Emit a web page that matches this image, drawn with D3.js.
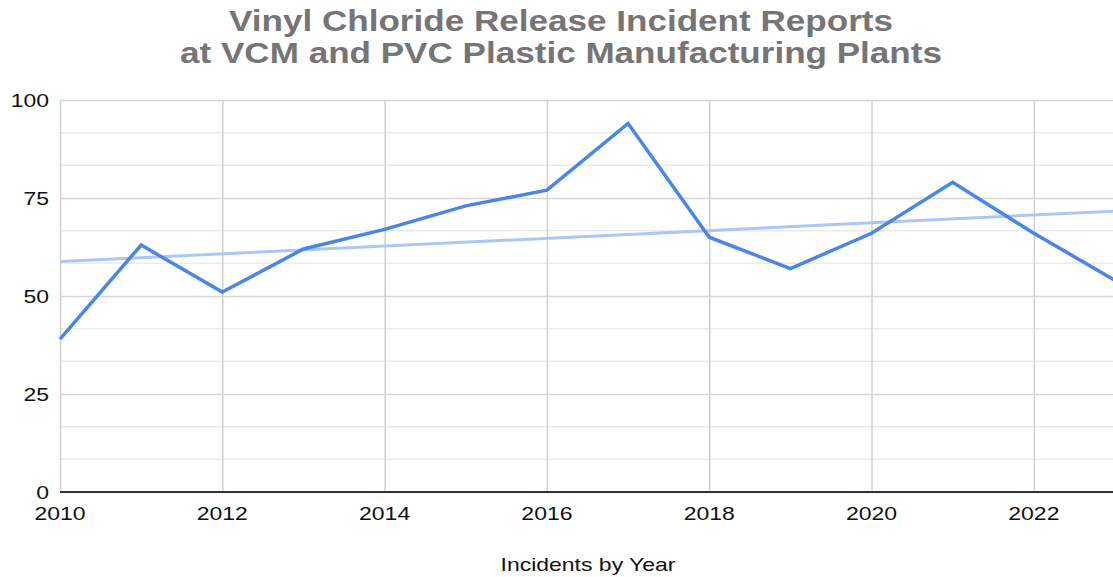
<!DOCTYPE html>
<html>
<head>
<meta charset="utf-8">
<script src="https://cdn.jsdelivr.net/npm/d3@7"></script>
<style>
  body { margin: 0; background: #fff; }
  svg { display: block; font-family: Arial, "Liberation Sans", sans-serif; }
</style>
</head>
<body>
<div class="container"></div>
<script>
// vinyl chloride incidents line chart + trendline

var years = [2010, 2011, 2012, 2013, 2014, 2015, 2016, 2017, 2018, 2019, 2020, 2021, 2022, 2023];
var incidents = [39, 63, 51, 62, 67, 73, 77, 94, 65, 57, 66, 79, 66, 54];
var yTicks = [0, 25, 50, 75, 100];
var xTicks = [2010, 2012, 2014, 2016, 2018, 2020, 2022];
var titleLines = ["Vinyl Chloride Release Incident Reports", "at VCM and PVC Plastic Manufacturing Plants"];
var xTitle = "Incidents by Year";

var width = 1113;
var height = 577;
var margin = {top: 100, right: -2, bottom: 85, left: 60};
var stretch = 1.21; // the text in the original is a bit wide

const svg = d3.select(".container")
    .append("svg")
    .attr("width", width)
    .attr("height", height);

var x = d3.scaleLinear()
    .domain([2010, 2023])
    .range([margin.left, width - margin.right]);

var y = d3.scaleLinear()
    .domain([0, 100])
    .range([height - margin.bottom, margin.top]);

function place(px, py)
{
    return "translate(" + px + "," + py + ") scale(" + stretch + ",1)";
}

// minor gridlines (thirds between major ticks)
var minor = d3.range(0, 100.01, 25 / 3).filter(function(v)
{
    return Math.abs(v % 25) > 0.1 && Math.abs(v % 25 - 25) > 0.1;
});

svg.append("g")
    .selectAll("line")
    .data(minor)
    .join("line")
    .attr("x1", x(2010)).attr("x2", width)
    .attr("y1", function(d) { return y(d); })
    .attr("y2", function(d) { return y(d); })
    .attr("stroke", "#ebebeb")
    .attr("stroke-width", 1.5);

// major horizontal gridlines
svg.append("g")
    .call(d3.axisLeft(y).tickValues(yTicks).tickSize(-(width - margin.left)).tickFormat(""))
    .attr("transform", "translate(" + margin.left + ",0)")
    .call(function(g)
    {
        g.select(".domain").remove();
        g.selectAll("line").attr("stroke", "#d6d6d6").attr("stroke-width", 1.5);
    });

// vertical gridlines
svg.append("g")
    .attr("transform", "translate(0," + (height - margin.bottom) + ")")
    .call(d3.axisBottom(x).tickValues(xTicks).tickSize(-(height - margin.top - margin.bottom)).tickFormat(""))
    .call(function(g)
    {
        g.select(".domain").remove();
        g.selectAll("line").attr("stroke", "#d0d0d0").attr("stroke-width", 1.5);
    });

// y labels
svg.append("g")
    .selectAll("text")
    .data(yTicks)
    .join("text")
    .attr("transform", function(d) { return place(49, y(d) + 7); })
    .attr("text-anchor", "end")
    .attr("font-size", 19)
    .attr("fill", "#111")
    .text(function(d) { return d; });

// x labels
svg.append("g")
    .selectAll("text")
    .data(xTicks)
    .join("text")
    .attr("transform", function(d) { return place(x(d), height - margin.bottom + 28); })
    .attr("text-anchor", "middle")
    .attr("font-size", 19)
    .attr("fill", "#111")
    .text(function(d) { return d; });

// baseline
svg.append("line")
    .attr("x1", margin.left).attr("x2", width)
    .attr("y1", y(0)).attr("y2", y(0))
    .attr("stroke", "#333")
    .attr("stroke-width", 2);

// trendline (least squares over data)
var mx = d3.mean(years), my = d3.mean(incidents);
var sxy = d3.sum(years, function(d, i) { return (d - mx) * (incidents[i] - my); });
var sxx = d3.sum(years, function(d) { return (d - mx) * (d - mx); });
var slope = sxy / sxx;
var icpt = my - slope * mx;
var ends = d3.extent(years);

svg.append("path")
    .datum(ends)
    .attr("fill", "none")
    .attr("stroke", "#a9c7f7")
    .attr("stroke-width", 3)
    .attr("d", d3.line()
        .x(function(d) { return x(d); })
        .y(function(d) { return y(icpt + slope * d); }));

// main series
svg.append("path")
    .datum(years)
    .attr("fill", "none")
    .attr("stroke", "#4a86e8")
    .attr("stroke-width", 3.5)
    .attr("stroke-linejoin", "miter")
    .attr("d", d3.line()
        .x(function(d) { return x(d); })
        .y(function(d, i) { return y(incidents[i]); }));

// title
svg.append("g")
    .selectAll("text")
    .data(titleLines)
    .join("text")
    .attr("transform", function(d, i) { return place(561, 31 + i * 32); })
    .attr("text-anchor", "middle")
    .attr("font-size", 29)
    .attr("font-weight", "bold")
    .attr("fill", "#757575")
    .text(function(d) { return d; });

svg.append("text")
    .attr("transform", place(588, 571))
    .attr("text-anchor", "middle")
    .attr("font-size", 19)
    .attr("fill", "#111")
    .text(xTitle);
</script>
</body>
</html>
